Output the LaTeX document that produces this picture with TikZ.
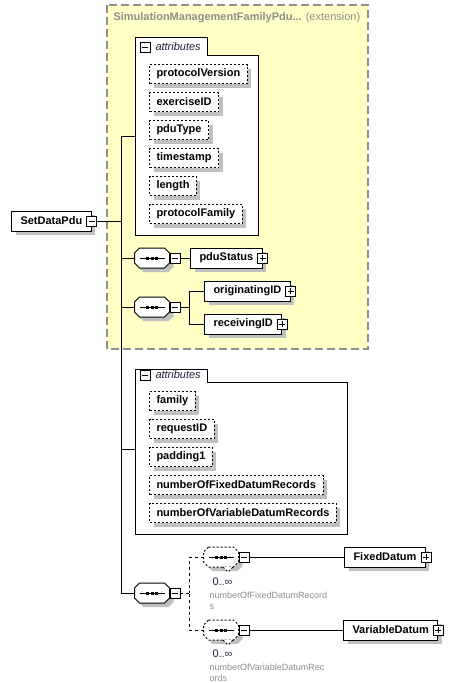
\documentclass[tikz,border=0pt]{standalone}
\usepackage{fontspec}
\setmainfont{Liberation Sans}
\usepackage{tikz}
\usetikzlibrary{shadows,positioning,calc}
\definecolor{xsdyellow}{HTML}{FFFFC6}
\definecolor{xsdframe}{HTML}{8E8E8E}
\definecolor{xsdshadow}{HTML}{C0C0C0}
\definecolor{xsdnote}{HTML}{8C8C8C}
\definecolor{xsdnavy}{HTML}{202040}

% octagon round a compositor node, shifted by #2
\newcommand{\octagonpath}[2]{%
    ($(#1.north west)+(#2)+(5,0)$) -- ($(#1.north east)+(#2)+(-5,0)$) --
    ($(#1.north east)+(#2)+(0,5)$) -- ($(#1.south east)+(#2)+(0,-5)$) --
    ($(#1.south east)+(#2)+(-5,0)$) -- ($(#1.south west)+(#2)+(5,0)$) --
    ($(#1.south west)+(#2)+(0,-5)$) -- ($(#1.north west)+(#2)+(0,5)$) -- cycle}
\newcommand{\drawcompositor}[2]{%
    \fill[xsdshadow] \octagonpath{#1}{4,4};
    \draw[fill=white, #2] \octagonpath{#1}{0,0};
    \draw[solid] ($(#1.west)+(5,0)$) -- ($(#1.east)+(-5,0)$);
    \foreach \dx in {-4.6,0,4.6}
        \fill[black] ($(#1.center)+(\dx,0)$) +(-1.5,-1.5) rectangle +(1.5,1.5);
}

\begin{document}
\begin{tikzpicture}[
    x=1pt,
    y=-1pt,
    line width=1pt,
    element/.style={
        draw,
        fill=white,
        anchor=west,
        minimum height=20pt,
        inner xsep=9pt,
        inner ysep=0pt,
        font=\fontsize{11}{13}\selectfont\bfseries,
        drop shadow={shadow xshift=4pt, shadow yshift=-4pt, fill=xsdshadow, opacity=1}
    },
    attribute/.style={
        element,
        minimum height=19pt,
        inner xsep=7pt,
        dash pattern=on 2pt off 2pt
    },
    compositor/.style={
        rectangle,
        minimum width=34pt,
        minimum height=19pt,
        inner sep=0pt
    },
    minusbox/.style={
        draw,
        solid,
        fill=white,
        minimum size=10pt,
        inner sep=0pt,
        line width=0.8pt,
        path picture={
            \draw[solid] ([xshift=2pt]path picture bounding box.west) -- ([xshift=-2pt]path picture bounding box.east);
        }
    },
    plusbox/.style={
        minusbox,
        path picture={
            \draw[solid] ([xshift=2pt]path picture bounding box.west) -- ([xshift=-2pt]path picture bounding box.east);
            \draw[solid] ([yshift=-2pt]path picture bounding box.north) -- ([yshift=2pt]path picture bounding box.south);
        }
    },
    extension/.style={
        fill=xsdyellow,
        draw=xsdframe,
        line width=1.2pt,
        dash pattern=on 8pt off 4pt
    },
    attrgroup/.style={
        draw,
        fill=white
    },
    grouplabel/.style={
        anchor=west,
        inner sep=0pt,
        font=\fontsize{11}{13}\selectfont\itshape,
        text=xsdnavy
    },
    optional/.style={
        dash pattern=on 3pt off 3pt
    },
    multiplicity/.style={
        anchor=west,
        inner sep=0pt,
        font=\fontsize{11}{13}\selectfont,
        text=xsdnavy
    },
    note/.style={
        anchor=west,
        align=left,
        inner sep=0pt,
        font=\fontsize{9}{10.5}\selectfont,
        text=xsdnote
    }
]
\useasboundingbox (0,0) rectangle (469,683);

% Base type
\draw[extension] (107,5) rectangle (368,349);
\node[anchor=west, inner sep=0pt, text=xsdframe, font=\fontsize{11}{13}\selectfont] (exttitle) at (113,18)
    {\textbf{SimulationManagementFamilyPdu...} (extension)};

% Root element
\node[element] (setdatapdu) at (11,221) {SetDataPdu};
\node[minusbox] (setdatapdutog) at (setdatapdu.east) {};

% Trunk
\coordinate (trunktop) at (121,136);
\coordinate (trunkbot) at (121,593);
\draw (trunktop) -- (trunkbot);
\draw (setdatapdutog.east) -- (setdatapdutog.east -| trunktop);

% Inherited attributes
\draw[attrgroup] (135,37) -- (207,37) -- (207,55) -- (258,55) -- (258,235) -- (135,235) -- cycle;
\coordinate (attrs1) at (135,136);
\draw (trunktop) -- (attrs1);
\node[minusbox] (attrs1tog) at (145,47) {};
\node[grouplabel] (attrs1label) at (155,47) {attributes};
\foreach \name [count=\i] in {protocolVersion, exerciseID, pduType, timestamp, length, protocolFamily} {
    \node[attribute] (\name) at (149,46+28*\i) {\name};
}

% pduStatus sequence
\node[compositor] (seq1) at (152,258) {};
\drawcompositor{seq1}{solid}
\node[minusbox, anchor=west] (seq1tog) at (seq1.east) {};
\node[element] (pduStatus) at (190,258) {pduStatus};
\node[plusbox] (pduStatustog) at (pduStatus.east) {};
\draw (seq1.west -| trunktop) -- (seq1.west);
\draw (seq1tog.east) -- (pduStatus.west);

% ID sequence
\node[compositor] (seq2) at (152,307) {};
\drawcompositor{seq2}{solid}
\node[minusbox, anchor=west] (seq2tog) at (seq2.east) {};
\coordinate (join2) at (189,307);
\node[element] (originatingID) at (204,291) {originatingID};
\node[plusbox] (originatingIDtog) at (originatingID.east) {};
\node[element] (receivingID) at (204,324) {receivingID};
\node[plusbox] (receivingIDtog) at (receivingID.east) {};
\draw (seq2.west -| trunktop) -- (seq2.west);
\draw (seq2tog.east) -- (join2);
\draw (originatingID.west) -| (join2);
\draw (receivingID.west) -| (join2);

% Own attributes
\draw[attrgroup] (135,369) -- (207,369) -- (207,382) -- (347,382) -- (347,534) -- (135,534) -- cycle;
\coordinate (attrs2) at (135,449);
\draw (attrs2 -| trunktop) -- (attrs2);
\node[minusbox] (attrs2tog) at (145,375) {};
\node[grouplabel] (attrs2label) at (155,375) {attributes};
\foreach \name [count=\i] in {family, requestID, padding1, numberOfFixedDatumRecords, numberOfVariableDatumRecords} {
    \node[attribute] (\name) at (149,373+28*\i) {\name};
}

% Datum records sequence
\node[compositor] (seq3) at (152,593) {};
\drawcompositor{seq3}{solid}
\node[minusbox, anchor=west] (seq3tog) at (seq3.east) {};
\coordinate (join3) at (189,593);
\draw (trunkbot) -- (seq3.west);
\draw[optional] (seq3tog.east) -- (join3);

\node[compositor] (seq4) at (221,557) {};
\drawcompositor{seq4}{dash pattern=on 2pt off 2pt}
\draw[dash pattern=on 2pt off 2pt, fill=white] ($(seq4.south)+(2,0)$) -- ++(5,5) -- ++(5,-5);
\node[minusbox, anchor=west] (seq4tog) at (seq4.east) {};
\node[element] (FixedDatum) at (344,557) {FixedDatum};
\node[plusbox] (FixedDatumtog) at (FixedDatum.east) {};
\draw[optional] (seq4.west) -| (join3);
\draw (seq4tog.east) -- (FixedDatum.west);
\node[multiplicity] (seq4mult) at (212,582) {0..∞};
\node[note] (seq4note) at (209,601) {numberOfFixedDatumRecord\\s};

\node[compositor] (seq5) at (221,630) {};
\drawcompositor{seq5}{dash pattern=on 2pt off 2pt}
\draw[dash pattern=on 2pt off 2pt, fill=white] ($(seq5.south)+(2,0)$) -- ++(5,5) -- ++(5,-5);
\node[minusbox, anchor=west] (seq5tog) at (seq5.east) {};
\node[element] (VariableDatum) at (343,630) {VariableDatum};
\node[plusbox] (VariableDatumtog) at (VariableDatum.east) {};
\draw[optional] (seq5.west) -| (join3);
\draw (seq5tog.east) -- (VariableDatum.west);
\node[multiplicity] (seq5mult) at (212,654) {0..∞};
\node[note] (seq5note) at (209,673) {numberOfVariableDatumRec\\ords};

\end{tikzpicture}
\end{document}
